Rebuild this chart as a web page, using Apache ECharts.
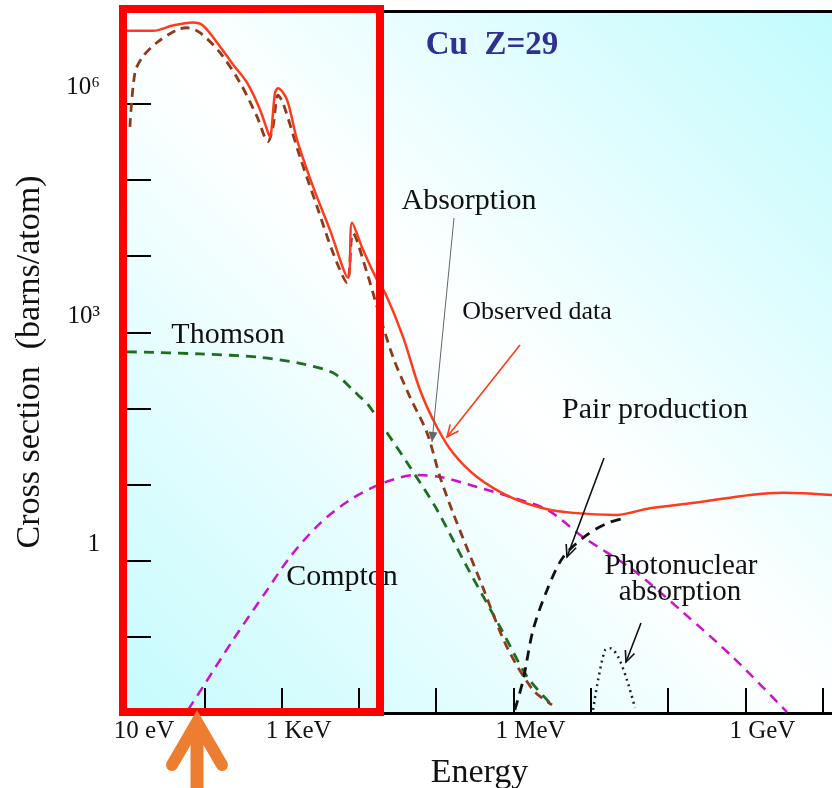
<!DOCTYPE html>
<html>
<head>
<meta charset="utf-8">
<script src="https://cdn.jsdelivr.net/npm/echarts@6/dist/echarts.min.js"></script>
<style>
  html, body { margin: 0; padding: 0; background: #fff; }
  #main { width: 832px; height: 788px; }
</style>
</head>
<body>
<div id="main"></div>
<script>
// energies in eV, cross sections in barns/atom
var observedE = [10, 22, 39, 71, 96, 146, 235, 357, 526, 667, 708, 822, 898, 1175, 1580, 2550, 4230, 7230, 8150, 11300, 17100, 21800, 37200, 61700, 1.02e5, 1.65e5, 3.37e5, 9.0e5, 2.41e6, 5.9e6, 2.18e7, 5.8e7, 2.6e8, 1.15e9, 3.1e9, 1.32e10];
var observedXs = [9.1e6, 9.1e6, 1.07e7, 1.17e7, 1.07e7, 6.4e6, 3.3e6, 1.9e6, 8.4e5, 4.2e5, 3.7e5, 1.4e6, 1.6e6, 1.13e6, 3.4e5, 8.2e4, 2.2e4, 5.2e3, 2.75e4, 1.21e4, 4.9e3, 3.3e3, 870, 175, 57, 26, 12.6, 6.9, 4.9, 4.25, 4.0, 4.9, 5.9, 7.3, 7.8, 7.3];

var absorptionE = [10.9, 12.7, 16.1, 24.4, 44.4, 59.7, 88, 160, 290, 481, 667, 774, 898, 1040, 1730, 2870, 4620, 7010, 8400, 12700, 17100, 27600, 45800, 76000, 1.12e5, 1.65e5, 4.0e5, 8.2e5, 1.79e6, 3.15e6];
var absorptionXs = [5.0e5, 2.6e6, 4.2e6, 6.4e6, 9.4e6, 1.0e7, 8.6e6, 4.7e6, 1.9e6, 6.8e5, 3.2e5, 5.0e5, 1.3e6, 1.04e6, 2.0e5, 4.5e4, 1.11e4, 4.5e3, 2.0e4, 6.1e3, 2.2e3, 475, 141, 48, 12.6, 4.25, 0.45, 0.074, 0.020, 0.0128];

var thomsonE = [10, 88, 526, 1730, 4620, 8400, 10300, 12700, 23100, 45800, 1.02e5, 2.5e5, 6.7e5, 1.5e6, 2.97e6];
var thomsonXs = [555, 520, 470, 390, 294, 175, 142, 118, 48, 17, 4.7, 0.83, 0.135, 0.030, 0.0135];

var comptonE = [61.5, 96, 235, 647, 1285, 3140, 7680, 20500, 56500, 1.22e5, 3.37e5, 9.0e5, 2.7e6, 7.9e6, 3.5e7, 1.56e8, 6.9e8, 3.45e9];
var comptonXs = [0.011, 0.022, 0.091, 0.41, 1.12, 3.1, 6.3, 10.5, 13.4, 12.4, 9.3, 6.9, 4.7, 2.05, 0.76, 0.21, 0.054, 0.0103];

var pairE = [1.04e6, 1.33e6, 1.79e6, 2.71e6, 4.4e6, 8.9e6, 1.62e7, 2.94e7];
var pairXs = [0.011, 0.027, 0.123, 0.41, 1.12, 2.18, 3.1, 3.7];

var photonuclearE = [1.07e7, 1.24e7, 1.53e7, 1.77e7, 2.25e7, 2.94e7, 3.73e7];
var photonuclearXs = [0.011, 0.027, 0.067, 0.071, 0.055, 0.027, 0.0117];

// ticks and tick labels
var xTicks = [100, 1e3, 1e4, 1e5, 1e6, 1e7, 1e8, 1e9, 1e10];
var xLabelValues = [10, 1e3, 1e6, 1e9];
var xLabelTexts = ['10 eV', '1 KeV', '1 MeV', '1 GeV'];
var yTicks = [0.1, 1, 10, 100, 1e3, 1e4, 1e5, 1e6];
var yLabelValues = [1, 1e3, 1e6];
var yLabelTexts = ['1', '10³', '10⁶'];

var SERIF = '"Liberation Serif", "DejaVu Serif", serif';

function pairs(xs, ys) {
  return xs.map(function (x, i) { return [x, ys[i]]; });
}

function nearestLabel(v, values, texts) {
  var k = Math.log10(v);
  for (var i = 0; i < values.length; i++) {
    if (Math.abs(Math.log10(values[i]) - k) < 0.01) return texts[i];
  }
  return '';
}

function curve(name, xs, ys, color, width, dash) {
  return {
    name: name,
    type: 'line',
    data: pairs(xs, ys),
    showSymbol: false,
    smooth: 0.3,
    silent: true,
    lineStyle: { color: color, width: width, type: dash }
  };
}

// annotation arrow: a line with a head at (x2, y2)
function arrow(x1, y1, x2, y2, color, width, head, filled) {
  var a = Math.atan2(y2 - y1, x2 - x1);
  var p1 = [x2 - head * Math.cos(a - 0.42), y2 - head * Math.sin(a - 0.42)];
  var p2 = [x2 - head * Math.cos(a + 0.42), y2 - head * Math.sin(a + 0.42)];
  var els = [{
    type: 'line', z: 50,
    shape: { x1: x1, y1: y1, x2: x2, y2: y2 },
    style: { stroke: color, lineWidth: width }
  }];
  if (filled) {
    els.push({ type: 'polygon', z: 50, shape: { points: [p1, [x2, y2], p2] }, style: { fill: color } });
  } else {
    els.push({ type: 'polyline', z: 50, shape: { points: [p1, [x2, y2], p2] }, style: { stroke: color, lineWidth: width } });
  }
  return els;
}

function label(text, x, y, size, extra) {
  var style = { text: text, fontSize: size, fontFamily: SERIF, fill: '#111', align: 'center', verticalAlign: 'middle' };
  if (extra) for (var k in extra) style[k] = extra[k];
  return { type: 'text', x: x, y: y, z: 50, style: style };
}

var myChart = echarts.init(document.getElementById('main'));

var graphics = [
  label('Cu  Z=29', 492, 45, 33, { fontWeight: 'bold', fill: '#2e3192' }),
  label('Absorption', 469, 201, 30),
  label('Observed data', 537, 312, 26),
  label('Thomson', 228, 335, 30),
  label('Compton', 342, 577, 30),
  label('Pair production', 655, 410, 30),
  label('Photonuclear', 681, 566, 29),
  label('absorption', 680, 592, 29),
  // red highlight box
  {
    type: 'rect', z: 60,
    shape: { x: 123, y: 9, width: 257, height: 703 },
    style: { fill: null, stroke: '#ff0000', lineWidth: 8 }
  },
  // orange arrow under the axis
  {
    type: 'line', z: 60,
    shape: { x1: 197, y1: 728, x2: 197, y2: 792 },
    style: { stroke: '#ed7d31', lineWidth: 13 }
  },
  {
    type: 'polyline', z: 60,
    shape: { points: [[172, 765], [197, 722], [222, 765]] },
    style: { stroke: '#ed7d31', lineWidth: 12, lineCap: 'round', lineJoin: 'miter', fill: null }
  }
]
  .concat(arrow(454, 218, 432, 442, '#666', 1, 11, true))
  .concat(arrow(520, 345, 447, 437, '#ff3b1c', 1.6, 13, false))
  .concat(arrow(604, 458, 567, 557, '#111', 1.6, 13, false))
  .concat(arrow(641, 623, 626, 662, '#111', 1.6, 12, false));

myChart.setOption({
  backgroundColor: '#fff',
  animation: false,
  grid: {
    left: 127, right: 0, top: 11, bottom: 75,
    outerBoundsMode: 'none',
    containLabel: false,
    show: true,
    borderWidth: 0,
    backgroundColor: new echarts.graphic.LinearGradient(0, 1, 1, 0, [
      { offset: 0, color: '#c6fbfd' },
      { offset: 0.5, color: '#ffffff' },
      { offset: 1, color: '#c2fbfd' }
    ])
  },
  xAxis: [{
    type: 'log',
    min: 10,
    max: Math.pow(10, 10.12),
    name: 'Energy',
    nameLocation: 'middle',
    nameGap: 43,
    nameTextStyle: { fontFamily: SERIF, fontSize: 34, color: '#111' },
    axisLine: { show: true, lineStyle: { color: '#000', width: 3 } },
    axisTick: { show: true, inside: true, length: 25, customValues: xTicks, lineStyle: { color: '#000', width: 2 } },
    splitLine: { show: false },
    minorTick: { show: false },
    axisLabel: {
      fontFamily: SERIF, fontSize: 25, color: '#111', margin: 6,
      customValues: xLabelValues,
      padding: [0, 0, 0, 34],
      formatter: function (v) { return nearestLabel(v, xLabelValues, xLabelTexts); }
    }
  }, {
    type: 'log',
    position: 'top',
    min: 10,
    max: Math.pow(10, 10.12),
    axisLine: { show: true, lineStyle: { color: '#000', width: 3 } },
    axisTick: { show: false },
    axisLabel: { show: false },
    splitLine: { show: false }
  }],
  yAxis: {
    type: 'log',
    min: 0.01,
    max: Math.pow(10, 7.22),
    name: 'Cross section  (barns/atom)',
    nameLocation: 'middle',
    nameGap: 80,
    nameTextStyle: { fontFamily: SERIF, fontSize: 34, color: '#111' },
    axisLine: { show: false },
    axisTick: { show: true, inside: true, length: 24, customValues: yTicks, lineStyle: { color: '#000', width: 2 } },
    splitLine: { show: false },
    axisLabel: {
      fontFamily: SERIF, fontSize: 25, color: '#111', margin: 27,
      customValues: yLabelValues,
      verticalAlign: 'bottom',
      lineHeight: 32,
      formatter: function (v) { return nearestLabel(v, yLabelValues, yLabelTexts); }
    }
  },
  series: [
    curve('Compton', comptonE, comptonXs, '#cc11cc', 2.5, [10, 7]),
    curve('Thomson', thomsonE, thomsonXs, '#1e6e1e', 2.8, [10, 7]),
    curve('Absorption', absorptionE, absorptionXs, '#8e3b1b', 2.8, [9, 6]),
    curve('Pair production', pairE, pairXs, '#111', 2.8, [10, 7]),
    curve('Photonuclear absorption', photonuclearE, photonuclearXs, '#222', 2.5, [2, 4]),
    curve('Observed data', observedE, observedXs, '#ff3b1c', 2.5, 'solid')
  ],
  graphic: graphics
});
</script>
</body>
</html>
